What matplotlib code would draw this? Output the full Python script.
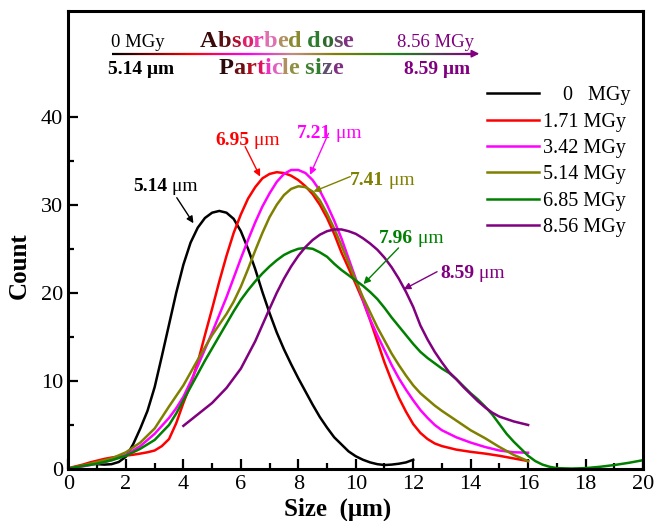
import numpy as np
import matplotlib
matplotlib.use('Agg')
import matplotlib.pyplot as plt
from matplotlib.collections import LineCollection
from matplotlib.colors import LinearSegmentedColormap

plt.rcParams['font.family'] = ['Liberation Serif', 'DejaVu Serif']

# size distributions (size in um, count)
x_0 = [1.0, 1.25, 1.5, 1.75, 2.0, 2.25, 2.5, 2.75, 3.0, 3.25, 3.5, 3.75, 4.0, 4.25, 4.5, 4.75,
       5.0, 5.25, 5.5, 5.75, 6.0, 6.25, 6.5, 6.75, 7.0, 7.25, 7.5, 7.75, 8.0, 8.25, 8.5, 8.75,
       9.0, 9.25, 9.5, 9.75, 10.0, 10.25, 10.5, 10.75, 11.0, 11.25, 11.5, 11.75, 12.0]
y_0 = [0.55, 0.5, 0.55, 0.8, 1.4, 2.8, 4.6, 6.6, 9.3, 12.8, 16.4, 20.0, 23.2, 25.7, 27.4, 28.5,
       29.1, 29.3, 29.1, 28.4, 27.0, 25.0, 22.7, 20.1, 17.7, 15.5, 13.6, 11.9, 10.3, 8.8, 7.3, 5.9,
       4.7, 3.6, 2.8, 2.0, 1.45, 1.05, 0.75, 0.55, 0.45, 0.5, 0.6, 0.75, 1.05]

x_171 = [0.0, 0.25, 0.5, 0.75, 1.0, 1.25, 1.5, 1.75, 2.0, 2.25, 2.5, 2.75, 3.0, 3.25, 3.5, 3.75,
         4.0, 4.25, 4.5, 4.75, 5.0, 5.25, 5.5, 5.75, 6.0, 6.25, 6.5, 6.75, 7.0, 7.25, 7.5, 7.75,
         8.0, 8.25, 8.5, 8.75, 9.0, 9.25, 9.5, 9.75, 10.0, 10.25, 10.5, 10.75, 11.0, 11.25, 11.5,
         11.75, 12.0, 12.25, 12.5, 12.75, 13.0, 13.5, 14.0, 14.5, 15.0, 15.5, 16.0]
y_171 = [0.1, 0.3, 0.5, 0.75, 0.95, 1.15, 1.3, 1.42, 1.52, 1.62, 1.75, 1.9, 2.1, 2.6, 3.4, 5.2,
         7.5, 9.6, 12.1, 15.2, 18.2, 21.3, 24.2, 26.8, 28.9, 30.7, 32.0, 33.0, 33.5, 33.7, 33.6, 33.3,
         32.8, 32.1, 31.2, 30.0, 28.5, 26.7, 24.6, 22.8, 21.0, 19.1, 16.9, 14.5, 12.1, 10.0, 8.1,
         6.5, 5.1, 4.1, 3.4, 2.9, 2.6, 2.2, 1.95, 1.75, 1.5, 1.2, 0.9]

x_342 = [0.0, 0.5, 1.0, 1.5, 2.0, 2.5, 3.0, 3.5, 3.75, 4.0, 4.25, 4.5, 4.75, 5.0, 5.25, 5.5,
         5.75, 6.0, 6.25, 6.5, 6.75, 7.0, 7.25, 7.5, 7.75, 8.0, 8.25, 8.5, 8.75, 9.0, 9.25, 9.5,
         9.75, 10.0, 10.25, 10.5, 10.75, 11.0, 11.25, 11.5, 11.75, 12.0, 12.25, 12.5, 12.75, 13.0,
         13.5, 14.0, 14.5, 15.0, 15.5, 16.0]
y_342 = [0.05, 0.3, 0.6, 1.0, 1.6, 2.6, 4.0, 5.8, 6.9, 8.2, 9.9, 11.7, 13.6, 15.5, 17.5, 19.5,
         21.7, 23.9, 26.0, 28.0, 29.8, 31.3, 32.6, 33.5, 33.95, 33.95, 33.6, 32.8, 31.6, 30.0, 28.2, 26.2,
         23.9, 21.6, 19.2, 17.0, 15.2, 13.5, 11.8, 10.3, 9.0, 7.8, 6.7, 5.8, 5.0, 4.4,
         3.6, 3.0, 2.5, 2.1, 1.9, 1.85]

x_514 = [0.0, 0.5, 1.0, 1.5, 2.0, 2.5, 3.0, 3.5, 4.0, 4.5, 5.0, 5.25, 5.5, 5.75, 6.0, 6.25,
         6.5, 6.75, 7.0, 7.25, 7.5, 7.75, 8.0, 8.25, 8.5, 8.75, 9.0, 9.25, 9.5, 9.75, 10.0, 10.25,
         10.5, 10.75, 11.0, 11.25, 11.5, 11.75, 12.0, 12.25, 12.5, 12.75, 13.0, 13.5, 14.0, 14.5,
         15.0, 15.5, 16.0]
y_514 = [0.05, 0.4, 0.8, 1.2, 1.9, 3.0, 4.6, 7.1, 9.5, 12.4, 15.2, 16.4, 17.6, 19.0, 20.7, 22.7,
         24.8, 26.8, 28.6, 30.0, 31.1, 31.8, 32.1, 32.0, 31.5, 30.5, 29.0, 27.3, 25.4, 23.4, 21.4, 19.5,
         17.8, 16.1, 14.6, 13.1, 11.8, 10.6, 9.5, 8.6, 7.9, 7.2, 6.6, 5.5, 4.4, 3.5,
         2.5, 1.6, 0.9]

x_685 = [0.0, 0.5, 1.0, 1.5, 2.0, 2.5, 3.0, 3.5, 3.75, 4.0, 4.25, 4.5, 4.75, 5.0, 5.25, 5.5,
         5.75, 6.0, 6.25, 6.5, 6.75, 7.0, 7.25, 7.5, 7.75, 8.0, 8.25, 8.5, 8.75, 9.0, 9.25, 9.5,
         9.75, 10.0, 10.25, 10.5, 10.75, 11.0, 11.25, 11.5, 11.75, 12.0, 12.25, 12.5, 12.75, 13.0,
         13.25, 13.5, 13.75, 14.0, 14.25, 14.5, 14.75, 15.0, 15.25, 15.5, 15.75, 16.0, 16.25, 16.5,
         16.75, 17.0, 17.5, 18.0, 18.5, 19.0, 19.5, 20.0]
y_685 = [0.05, 0.35, 0.6, 1.0, 1.5, 2.3, 3.3, 5.0, 6.3, 7.8, 9.3, 10.8, 12.3, 13.7, 15.1, 16.5,
         17.9, 19.2, 20.3, 21.3, 22.2, 23.0, 23.7, 24.3, 24.7, 25.0, 25.1, 25.0, 24.6, 24.1, 23.3, 22.6,
         22.0, 21.4, 20.8, 20.1, 19.3, 18.3, 17.2, 16.2, 15.2, 14.2, 13.3, 12.6, 12.0, 11.4,
         10.9, 10.2, 9.4, 8.6, 7.9, 7.1, 6.2, 5.1, 4.0, 3.1, 2.3, 1.5, 0.9, 0.5,
         0.25, 0.1, 0.05, 0.1, 0.25, 0.45, 0.7, 1.0]

x_856 = [4.0, 4.5, 5.0, 5.5, 6.0, 6.5, 7.0, 7.25, 7.5, 7.75, 8.0, 8.25, 8.5, 8.75, 9.0, 9.25,
         9.5, 9.75, 10.0, 10.25, 10.5, 10.75, 11.0, 11.25, 11.5, 11.75, 12.0, 12.25, 12.5, 12.75,
         13.0, 13.25, 13.5, 13.75, 14.0, 14.25, 14.5, 14.75, 15.0, 15.5, 16.0]
y_856 = [4.9, 6.2, 7.5, 9.2, 11.4, 14.5, 18.2, 20.0, 21.6, 23.0, 24.2, 25.2, 26.0, 26.6, 27.0, 27.2,
         27.2, 27.0, 26.7, 26.2, 25.6, 24.9, 24.0, 22.9, 21.6, 20.1, 18.4, 16.3, 14.7, 13.3,
         12.1, 11.0, 10.2, 9.3, 8.5, 7.7, 7.0, 6.4, 5.95, 5.4, 5.0]

labels = ['    0   MGy', '1.71 MGy', '3.42 MGy', '5.14 MGy', '6.85 MGy', '8.56 MGy']
colors = ['black', '#ff0000', '#ff00ff', '#808000', '#008000', '#800080']
series = [(x_0, y_0), (x_171, y_171), (x_342, y_342), (x_514, y_514), (x_685, y_685), (x_856, y_856)]

# peak annotations: text, colour, text position, arrow tail, arrow head
peaks = ['5.14', '6.95', '7.21', '7.41', '7.96', '8.59']
peak_col = ['black', '#ff0000', '#ff00ff', '#808000', '#008000', '#800080']
txt_pos = [(2.25, 31.6), (5.10, 36.8), (7.95, 37.6), (9.81, 32.3), (10.8, 25.7), (12.94, 21.7)]
arr_from = [(3.77, 30.8), (6.15, 36.6), (9.05, 38.1), (9.81, 33.2), (11.49, 25.1), (12.83, 22.4)]
arr_to = [(4.35, 27.9), (6.67, 33.2), (8.41, 33.4), (8.53, 31.5), (10.27, 21.0), (11.67, 20.4)]

fig = plt.figure(figsize=(6.56, 5.21), dpi=100)
ax = fig.add_axes([0.1044, 0.0998, 0.8758, 0.8791])

for (xs, ys), c, lab in zip(series, colors, labels):
    ax.plot(xs, ys, color=c, lw=1.8, label=lab, solid_joinstyle='round')


def chain_text(x, y, parts, size):
    # write pieces one after another, each with its own colour / weight
    t = ax.text(x, y, parts[0][0], color=parts[0][1], fontweight=parts[0][2],
                fontsize=size, va='baseline')
    for s, c, w in parts[1:]:
        t = ax.annotate(s, xy=(1, 0), xycoords=t, va='bottom', color=c,
                        fontweight=w, fontsize=size, annotation_clip=False)
    return t


for p, c, tp, a0, a1 in zip(peaks, peak_col, txt_pos, arr_from, arr_to):
    chain_text(tp[0], tp[1], [(p, c, 'bold'), (' μm', c, 'normal')], 14)
    ax.annotate('', xy=a1, xytext=a0,
                arrowprops=dict(arrowstyle='-|>', color=c, lw=1.0, mutation_scale=10,
                                shrinkA=0, shrinkB=0))

# header with the colour gradient
grad = LinearSegmentedColormap.from_list('g', [(0, 'black'), (0.22, '#ff0000'), (0.38, '#ff00ff'),
                                              (0.5, '#c09080'), (0.62, '#808000'),
                                              (0.8, '#208020'), (1.0, '#800080')])
gx = np.linspace(1.5, 14.1, 200)
gy = np.full_like(gx, 47.15)
pts = np.column_stack([gx, gy]).reshape(-1, 1, 2)
segs = np.concatenate([pts[:-1], pts[1:]], axis=1)
lc = LineCollection(segs, colors=grad(np.linspace(0, 1, len(segs))), lw=1.6)
ax.add_collection(lc)
ax.annotate('', xy=(14.3, 47.15), xytext=(13.9, 47.15),
            arrowprops=dict(arrowstyle='-|>', color='#800080', lw=1.2, mutation_scale=11,
                            shrinkA=0, shrinkB=0))

ax.text(1.47, 47.9, '0 MGy', fontsize=13.5, color='black', va='baseline')
ax.text(11.43, 47.9, '8.56 MGy', fontsize=13.5, color='#800080', va='baseline')
ax.text(1.39, 44.9, '5.14 μm', fontsize=14, color='black', fontweight='bold', va='baseline')
ax.text(11.67, 44.9, '8.59 μm', fontsize=14, color='#800080', fontweight='bold', va='baseline')

dose_cols = ['#3a0a0a', '#5a1010', '#b01030', '#e0206a', '#ee40b0', '#e070b0', '#b09060', '#8a8a30',
             '#2e7a2e', '#2e6a2e', '#6a4a6a', '#803080']
dose_chr = ['A', 'b', 's', 'o', 'r', 'b', 'e', 'd', ' d', 'o', 's', 'e']
chain_text(4.58, 47.9, [(ch, c, 'bold') for ch, c in zip(dose_chr, dose_cols)], 17.5)

size_cols = ['#2a0a0a', '#6a1010', '#b01020', '#e01060', '#f030c0', '#e060c0', '#b09060', '#909040',
             '#408030', '#308030', '#605070', '#803080']
size_chr = ['P', 'a', 'r', 't', 'i', 'c', 'l', 'e', ' s', 'i', 'z', 'e']
chain_text(5.22, 44.9, [(ch, c, 'bold') for ch, c in zip(size_chr, size_cols)], 17.5)

ax.set_xlim(0, 20)
ax.set_ylim(0, 52)
ax.set_xticks(np.arange(0, 21, 2))
ax.set_xticks(np.arange(1, 20, 2), minor=True)
ax.set_yticks([0, 10, 20, 30, 40])
ax.set_yticks([5, 15, 25, 35], minor=True)
ax.tick_params(which='both', direction='in', top=False, right=False, labelsize=16, width=1.6)
ax.tick_params(which='major', length=7, pad=4)
ax.tick_params(which='minor', length=4)
for sp in ax.spines.values():
    sp.set_linewidth(2.2)

ax.set_xlabel('Size  (μm)', fontsize=18, fontweight='bold')
ax.set_ylabel('Count', fontsize=18, fontweight='bold')
ax.xaxis.set_label_coords(0.469, -0.087)
ax.xaxis.label.set_va('center')
ax.yaxis.set_label_coords(-0.086, 0.444)
ax.yaxis.label.set_va('center')

ax.legend(loc='upper left', bbox_to_anchor=(0.728, 0.836), frameon=False, fontsize=14.5,
          handlelength=2.6, handletextpad=0.2, labelspacing=0.36, borderpad=0, borderaxespad=0)

fig.savefig('out.png', dpi=100)
